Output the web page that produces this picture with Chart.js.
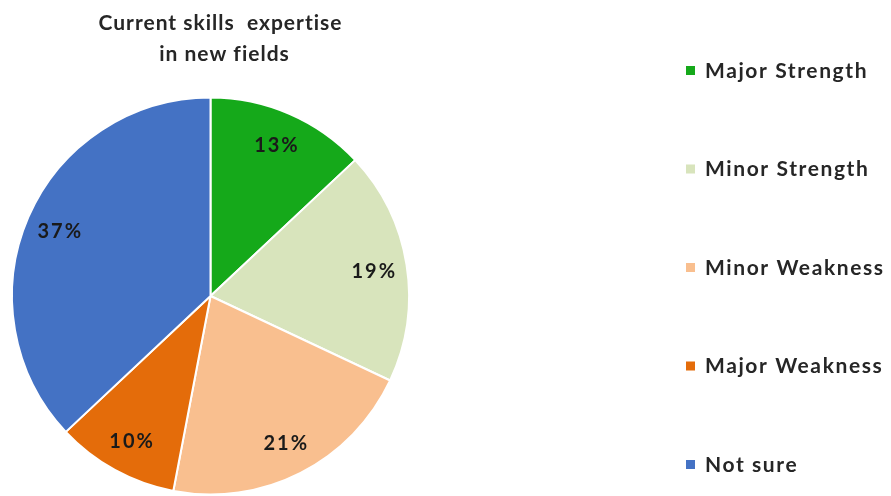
<!DOCTYPE html>
<html>
<head>
<meta charset="utf-8">
<script src="https://cdn.jsdelivr.net/npm/chart.js@4/dist/chart.umd.min.js"></script>
<style>
  html, body { margin: 0; padding: 0; background: #fff; }
  #wrap { width: 891px; height: 496px; position: relative; }
</style>
</head>
<body>
<div id="wrap"><canvas id="c" width="891" height="496"></canvas></div>
<script>
const categories = ['Major Strength', 'Minor Strength', 'Minor Weakness', 'Major Weakness', 'Not sure'];
const shares = [13, 19, 21, 10, 37];
const sliceColors = ['#15A91A', '#D8E4BC', '#F9BF8F', '#E46C0A', '#4472C4'];
const titleLines = ['Current skills  expertise', 'in new fields'];

const FONT = 'Lato, "Open Sans", sans-serif';

// Draw spaced text, centred or left-aligned, without trailing spacing
function spacedText(ctx, text, x, y, spacing, align) {
  ctx.letterSpacing = spacing + 'px';
  const w = ctx.measureText(text).width - spacing;
  const start = align === 'center' ? x - w / 2 : x;
  ctx.textAlign = 'left';
  ctx.fillText(text, start, y);
  ctx.letterSpacing = '0px';
}

// Title above the pie
const titlePlugin = {
  id: 'pieTitle',
  afterDraw(chart) {
    const ctx = chart.ctx;
    ctx.save();
    ctx.fillStyle = '#262626';
    ctx.font = 'bold 21px ' + FONT;
    ctx.textBaseline = 'middle';
    spacedText(ctx, titleLines[0], 220, 23, 1.0, 'center');
    spacedText(ctx, titleLines[1], 224, 54, 1.0, 'center');
    ctx.restore();
  }
};

// Percentage labels inside each slice
const valueLabels = {
  id: 'valueLabels',
  afterDatasetsDraw(chart) {
    const ctx = chart.ctx;
    const meta = chart.getDatasetMeta(0);
    ctx.save();
    ctx.fillStyle = '#1a1a1a';
    ctx.font = 'bold 20px ' + FONT;
    ctx.textBaseline = 'middle';
    meta.data.forEach((arc, i) => {
      const p = arc.getProps(['x', 'y', 'startAngle', 'endAngle', 'outerRadius'], true);
      const mid = (p.startAngle + p.endAngle) / 2;
      const d = p.outerRadius * 0.83;
      spacedText(ctx, shares[i] + '%', p.x + Math.cos(mid) * d, p.y + Math.sin(mid) * d + 1, 2.0, 'center');
    });
    ctx.restore();
  }
};

// Legend column on the right, widely spaced
const sideLegend = {
  id: 'sideLegend',
  afterDraw(chart) {
    const ctx = chart.ctx;
    const labels = chart.data.labels;
    const colors = chart.data.datasets[0].backgroundColor;
    ctx.save();
    ctx.font = 'bold 21px ' + FONT;
    ctx.textBaseline = 'middle';
    labels.forEach((lab, i) => {
      const y = 71 + i * 98.5;
      ctx.fillStyle = colors[i];
      ctx.fillRect(686, y - 5, 9, 9);
      ctx.fillStyle = '#262626';
      spacedText(ctx, lab, 705, y, 1.6, 'left');
    });
    ctx.restore();
  }
};

new Chart(document.getElementById('c'), {
  type: 'pie',
  data: {
    labels: categories,
    datasets: [{
      data: shares,
      backgroundColor: sliceColors,
      borderColor: '#ffffff',
      borderWidth: 2
    }]
  },
  options: {
    responsive: false,
    animation: false,
    layout: { padding: { left: 11, right: 481, top: 96, bottom: 0 } },
    plugins: {
      legend: { display: false },
      tooltip: { enabled: false }
    }
  },
  plugins: [titlePlugin, valueLabels, sideLegend]
});
</script>
</body>
</html>
